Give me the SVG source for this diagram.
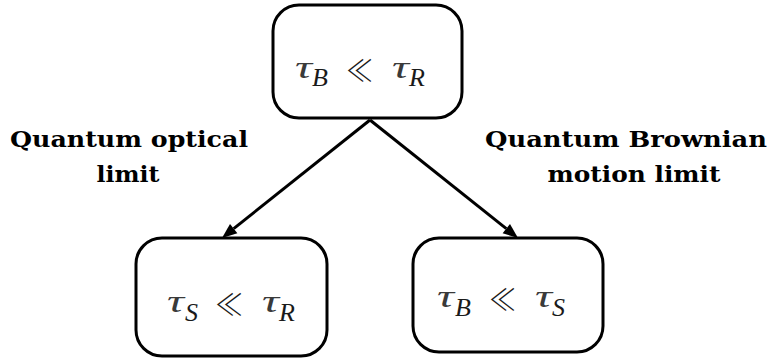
<svg xmlns="http://www.w3.org/2000/svg" width="771" height="360" viewBox="0 0 771 360">
<defs>
<style>
.box{fill:#fff;stroke:#000;stroke-width:3}
.edge{stroke:#000;stroke-width:3;fill:none}
.head{fill:#000}
.tau{font-size:32px;fill:#3a3a3a}
.sub{font-size:26px}
.rel{font-size:30px;font-style:normal;font-family:"Noto Sans CJK SC","DejaVu Sans",sans-serif;font-weight:300}
</style>
</defs>
<g id="connectors">
<path class="edge" d="M370,120 L233.7,228.6"/>
<path class="edge" d="M370,120 L506.3,228.6"/>
<path class="head" d="M222,238 L237.4,233.3 L230,223.9 Z"/>
<path class="head" d="M518,238 L502.6,233.3 L510,223.9 Z"/>
</g>
<g id="top">
<rect class="box" x="273" y="5" width="189" height="113" rx="26"/>
<g font-family="Liberation Serif, serif" font-style="italic" fill="#1a1a1a">
<text class="tau" x="295" y="78" textLength="17" lengthAdjust="spacingAndGlyphs">τ</text>
<text class="sub" x="312" y="86">B</text>
<text class="rel" x="346" y="81" textLength="27" lengthAdjust="spacingAndGlyphs">≪</text>
<text class="tau" x="392" y="78" textLength="17" lengthAdjust="spacingAndGlyphs">τ</text>
<text class="sub" x="409" y="86">R</text>
</g>
</g>
<g id="left">
<rect class="box" x="136" y="238" width="191" height="118" rx="26"/>
<g font-family="Liberation Serif, serif" font-style="italic" fill="#1a1a1a">
<text class="tau" x="167" y="312" textLength="17" lengthAdjust="spacingAndGlyphs">τ</text>
<text class="sub" x="185" y="321">S</text>
<text class="rel" x="215" y="315" textLength="28" lengthAdjust="spacingAndGlyphs">≪</text>
<text class="tau" x="262" y="312" textLength="17" lengthAdjust="spacingAndGlyphs">τ</text>
<text class="sub" x="279" y="321">R</text>
</g>
</g>
<g id="right">
<rect class="box" x="413" y="238" width="190" height="114" rx="26"/>
<g font-family="Liberation Serif, serif" font-style="italic" fill="#1a1a1a">
<text class="tau" x="437" y="307" textLength="17" lengthAdjust="spacingAndGlyphs">τ</text>
<text class="sub" x="455" y="316">B</text>
<text class="rel" x="489" y="310" textLength="27" lengthAdjust="spacingAndGlyphs">≪</text>
<text class="tau" x="535" y="307" textLength="17" lengthAdjust="spacingAndGlyphs">τ</text>
<text class="sub" x="552" y="316">S</text>
</g>
</g>
<g id="labels" font-family="DejaVu Serif, serif" font-weight="bold" font-size="22" text-anchor="middle" fill="#000">
<text x="129" y="147" textLength="238" lengthAdjust="spacingAndGlyphs">Quantum optical</text>
<text x="128" y="182" textLength="63" lengthAdjust="spacingAndGlyphs">limit</text>
<text x="626" y="147" textLength="282" lengthAdjust="spacingAndGlyphs">Quantum Brownian</text>
<text x="634" y="182" textLength="173" lengthAdjust="spacingAndGlyphs">motion limit</text>
</g>
</svg>
